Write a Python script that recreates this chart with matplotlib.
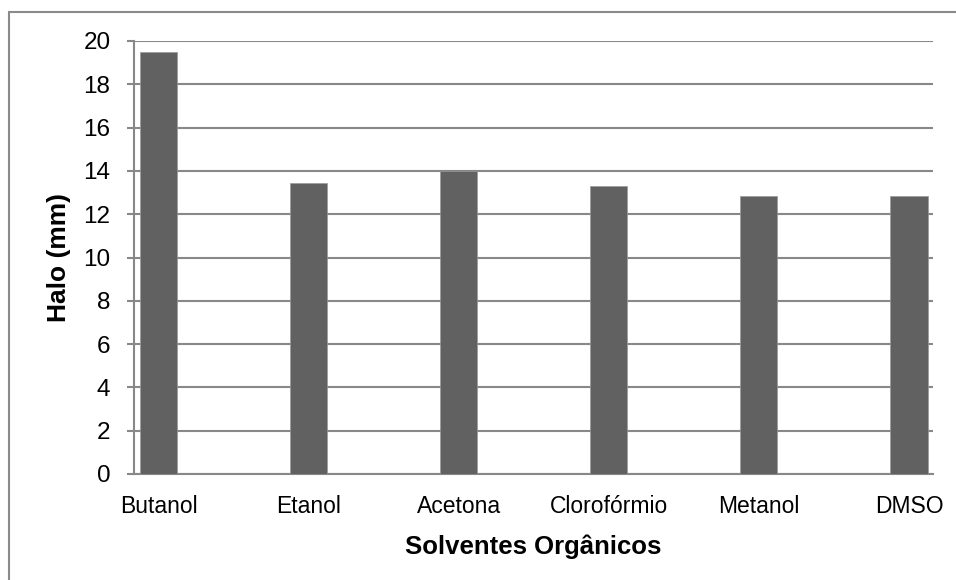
import numpy as np
import matplotlib.pyplot as plt
from matplotlib.patches import Rectangle

plt.rcParams['font.family'] = ['Liberation Sans', 'DejaVu Sans']

solventes = ["Butanol", "Etanol", "Acetona", "Clorofórmio", "Metanol", "DMSO"]
halo = [19.5, 13.45, 14.0, 13.3, 12.83, 12.83]
y_ticks = [0, 2, 4, 6, 8, 10, 12, 14, 16, 18, 20]

fig = plt.figure(figsize=(9.56, 5.8), dpi=100)
ax = fig.add_axes([134 / 956, 1 - 474 / 580, (933 - 134) / 956, (474 - 41) / 580])

# moldura externa do grafico
fig.patches.append(Rectangle((9 / 956, -0.05), 1.1, 1 - 12 / 580 + 0.05,
                             transform=fig.transFigure, fill=False,
                             edgecolor="#8a8a8a", linewidth=1.5, zorder=0))

x = np.arange(len(solventes))
ax.bar(x, halo, width=0.247, color="#616161", edgecolor="#9a9a9a", linewidth=0.5, zorder=3)

ax.set_xlim(-0.163, 5.16)
ax.set_ylim(0, 20)
ax.set_yticks(y_ticks)
ax.set_xticks(x)
ax.set_xticklabels(solventes)
ax.yaxis.grid(True, color="#888888", linewidth=1.5, zorder=0)
ax.set_axisbelow(True)

for s in ["top", "right"]:
    ax.spines[s].set_visible(False)
ax.spines["left"].set_color("#888888")
ax.spines["left"].set_linewidth(1.5)
ax.spines["bottom"].set_color("#888888")
ax.spines["bottom"].set_linewidth(1.5)

ax.tick_params(axis="y", length=5, width=1.5, color="#888888", labelsize=17.5, pad=12)
ax.tick_params(axis="x", length=0, labelsize=16.5, pad=15)

ax.set_xlabel("Solventes Orgânicos", fontsize=18.5, fontweight="bold", labelpad=12)
ax.set_ylabel("Halo (mm)", fontsize=19, fontweight="bold", labelpad=9)

fig.savefig("out.png", dpi=100)
